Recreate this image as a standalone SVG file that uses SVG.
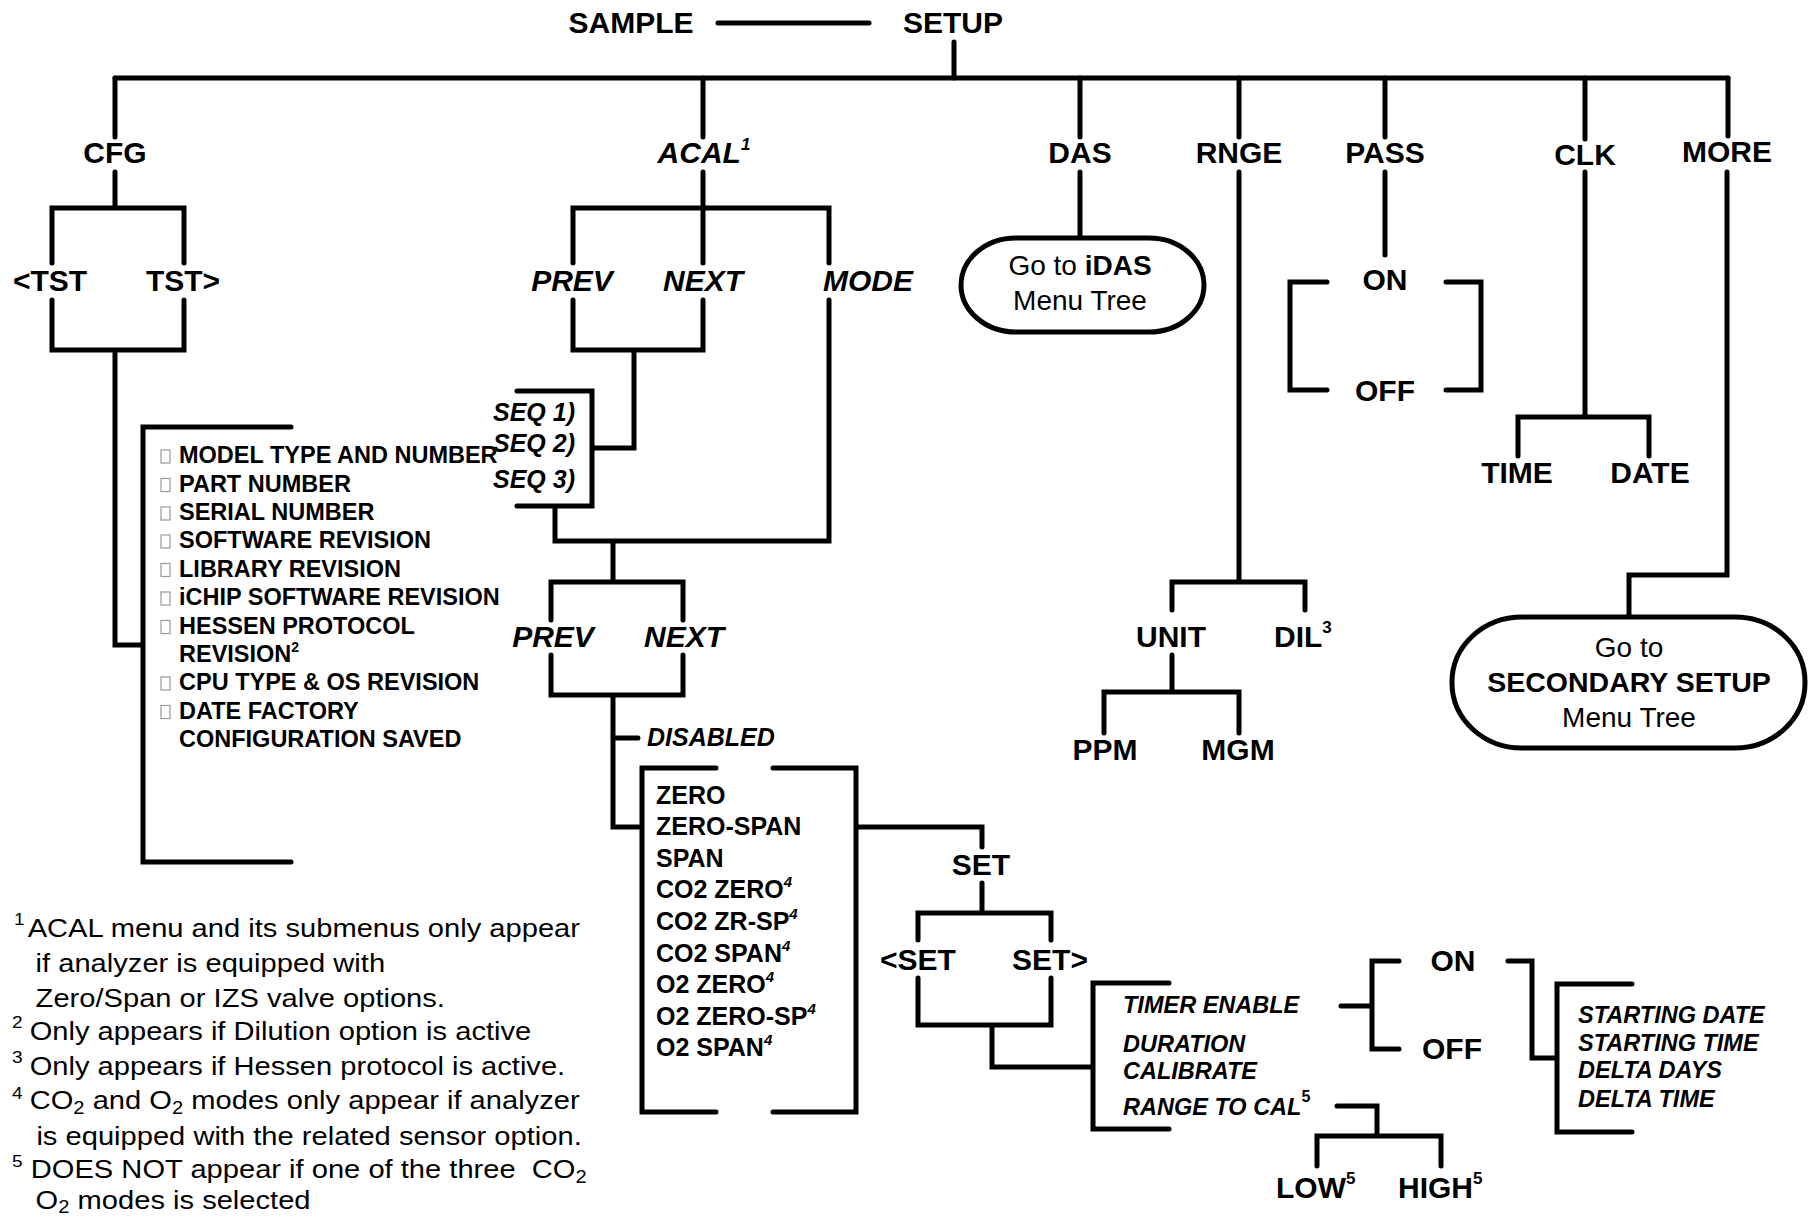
<svg xmlns="http://www.w3.org/2000/svg" width="1816" height="1219" viewBox="0 0 1816 1219">
<style>
.ln{fill:none;stroke:#000;stroke-width:5;stroke-linecap:round;stroke-linejoin:miter}
.t{font-family:"Liberation Sans",Arial,Helvetica,sans-serif;fill:#000}
.b{font-weight:bold}
.i{font-style:italic}
.L{font-size:30px}
.M{font-size:25px}
.S{font-size:23.5px}
.R{font-size:28px}
.c{text-anchor:middle}
.box{fill:#fff;stroke:#000;stroke-width:5}
.bul{fill:none;stroke:#9a9a9a;stroke-width:1.2}
.fn{font-size:26px}
.sup{font-size:17px}
.li{font-size:23.5px;font-weight:bold}
</style>
<rect width="1816" height="1219" fill="#fff"/>
<g id="connectors">
<path class="ln" d="M718 23H869"/>
<path class="ln" d="M954 42V78"/>
<path class="ln" d="M115 78H1728"/>
<path class="ln" d="M115 78V137M703 78V137M1080 78V137M1239 78V137M1385 78V137M1585 78V139M1728 78V136"/>
<path class="ln" d="M115 172V208M52 263V208H184V263M52 300V350H184V300M115 350V645H141"/>
<path class="ln" d="M291 427H143V862H291"/>
<path class="ln" d="M703 172V263M573 263V208H829V263M573 300V350H703V300M634 350V448H592M517 391H592V506H517M555 506V541H829V300M613 541V582M551 620V582H683V620M551 655V695H683V655M613 695V827H641M613 738H638"/>
<path class="ln" d="M716 768H642V1112H716M773 768H856V1112H773M856 827H982V847"/>
<path class="ln" d="M982 883V913M918 940V913H1051V940M918 978V1025H1051V978M992 1025V1067H1093M1169 983H1093V1129H1169"/>
<path class="ln" d="M1341 1006H1372M1399 961H1372V1049H1399M1508 961H1532V1058H1557M1632 984H1557V1132H1632M1337 1106H1377V1136M1317 1166V1136H1441V1166"/>
<path class="ln" d="M1080 172V238"/>
<path class="ln" d="M1239 172V582M1172 610V582H1305V610M1172 655V692M1104 733V692H1239V733"/>
<path class="ln" d="M1385 172V255M1327 282H1290V390H1327M1446 282H1481V390H1446"/>
<path class="ln" d="M1585 172V417M1518 456V417H1649V456"/>
<path class="ln" d="M1727 172V575H1629V617"/>
</g>
<g id="n-sample"><text class="t b L c" x="631" y="33">SAMPLE</text></g>
<g id="n-setup"><text class="t b L c" x="953" y="33">SETUP</text></g>
<g id="n-cfg"><text class="t b L c" x="115" y="163">CFG</text></g>
<g id="n-acal"><text class="t b i L c" x="704" y="163">ACAL<tspan class="sup" dy="-13">1</tspan></text></g>
<g id="n-das"><text class="t b L c" x="1080" y="163">DAS</text></g>
<g id="n-rnge"><text class="t b L c" x="1239" y="163">RNGE</text></g>
<g id="n-pass"><text class="t b L c" x="1385" y="163">PASS</text></g>
<g id="n-clk"><text class="t b L c" x="1585" y="165">CLK</text></g>
<g id="n-more"><text class="t b L c" x="1727" y="162">MORE</text></g>
<g id="n-tst-prev"><text class="t b L c" x="50" y="291">&lt;TST</text></g>
<g id="n-tst-next"><text class="t b L c" x="183" y="291">TST&gt;</text></g>
<g id="n-cfg-list">
<rect class="bul" x="161" y="450" width="9" height="13"/>
<rect class="bul" x="161" y="478.5" width="9" height="13"/>
<rect class="bul" x="161" y="507" width="9" height="13"/>
<rect class="bul" x="161" y="535" width="9" height="13"/>
<rect class="bul" x="161" y="563.5" width="9" height="13"/>
<rect class="bul" x="161" y="592" width="9" height="13"/>
<rect class="bul" x="161" y="620.5" width="9" height="13"/>
<rect class="bul" x="161" y="677" width="9" height="13"/>
<rect class="bul" x="161" y="705.5" width="9" height="13"/>
<text class="t li" x="179" y="463">MODEL TYPE AND NUMBER</text>
<text class="t li" x="179" y="491.5">PART NUMBER</text>
<text class="t li" x="179" y="520">SERIAL NUMBER</text>
<text class="t li" x="179" y="548">SOFTWARE REVISION</text>
<text class="t li" x="179" y="576.5">LIBRARY REVISION</text>
<text class="t li" x="179" y="605">iCHIP SOFTWARE REVISION</text>
<text class="t li" x="179" y="633.5">HESSEN PROTOCOL</text>
<text class="t li" x="179" y="662">REVISION<tspan font-size="14" dy="-10">2</tspan></text>
<text class="t li" x="179" y="690">CPU TYPE &amp; OS REVISION</text>
<text class="t li" x="179" y="718.5">DATE FACTORY</text>
<text class="t li" x="179" y="747">CONFIGURATION SAVED</text>
</g>
<g id="n-acal-prev"><text class="t b i L c" x="572" y="291">PREV</text></g>
<g id="n-acal-next"><text class="t b i L c" x="703" y="291">NEXT</text></g>
<g id="n-acal-mode"><text class="t b i L" x="823" y="291">MODE</text></g>
<g id="n-seq">
<text class="t b i M" x="493" y="421">SEQ 1)</text>
<text class="t b i M" x="493" y="452">SEQ 2)</text>
<text class="t b i M" x="493" y="488">SEQ 3)</text>
</g>
<g id="n-prev2"><text class="t b i L c" x="553" y="647">PREV</text></g>
<g id="n-next2"><text class="t b i L c" x="684" y="647">NEXT</text></g>
<g id="n-disabled"><text class="t b i M" x="647" y="746">DISABLED</text></g>
<g id="n-modes">
<text class="t b M" x="656" y="803.5">ZERO</text>
<text class="t b M" x="656" y="835">ZERO-SPAN</text>
<text class="t b M" x="656" y="866.5">SPAN</text>
<text class="t b M" x="656" y="898">CO2 ZERO<tspan class="i" font-size="15" dy="-11">4</tspan></text>
<text class="t b M" x="656" y="930">CO2 ZR-SP<tspan class="i" font-size="15" dy="-11">4</tspan></text>
<text class="t b M" x="656" y="961.5">CO2 SPAN<tspan class="i" font-size="15" dy="-11">4</tspan></text>
<text class="t b M" x="656" y="993">O2 ZERO<tspan class="i" font-size="15" dy="-11">4</tspan></text>
<text class="t b M" x="656" y="1024.5">O2 ZERO-SP<tspan class="i" font-size="15" dy="-11">4</tspan></text>
<text class="t b M" x="656" y="1056">O2 SPAN<tspan class="i" font-size="15" dy="-11">4</tspan></text>
</g>
<g id="n-set"><text class="t b L c" x="981" y="875">SET</text></g>
<g id="n-set-prev"><text class="t b L c" x="918" y="970">&lt;SET</text></g>
<g id="n-set-next"><text class="t b L c" x="1050" y="970">SET&gt;</text></g>
<g id="n-timer">
<text class="t b i S" x="1123" y="1013">TIMER ENABLE</text>
<text class="t b i S" x="1123" y="1052">DURATION</text>
<text class="t b i S" x="1123" y="1079">CALIBRATE</text>
<text class="t b i S" x="1123" y="1115">RANGE TO CAL<tspan font-style="normal" font-size="16" dy="-13">5</tspan></text>
</g>
<g id="n-timer-on"><text class="t b L c" x="1453" y="971">ON</text></g>
<g id="n-timer-off"><text class="t b L c" x="1452" y="1059">OFF</text></g>
<g id="n-starting">
<text class="t b i S" x="1578" y="1023">STARTING DATE</text>
<text class="t b i S" x="1578" y="1051">STARTING TIME</text>
<text class="t b i S" x="1578" y="1078">DELTA DAYS</text>
<text class="t b i S" x="1578" y="1107">DELTA TIME</text>
</g>
<g id="n-low"><text class="t b L" x="1276" y="1198">LOW<tspan font-size="17" dy="-14">5</tspan></text></g>
<g id="n-high"><text class="t b L" x="1398" y="1198">HIGH<tspan font-size="17" dy="-14">5</tspan></text></g>
<g id="n-idas">
<rect class="box" x="961" y="238" width="243" height="94" rx="55" ry="47"/>
<text class="t R c" x="1080" y="275">Go to <tspan class="b">iDAS</tspan></text>
<text class="t R c" x="1080" y="310">Menu Tree</text>
</g>
<g id="n-pass-on"><text class="t b L c" x="1385" y="290">ON</text></g>
<g id="n-pass-off"><text class="t b L c" x="1385" y="401">OFF</text></g>
<g id="n-unit"><text class="t b L c" x="1171" y="647">UNIT</text></g>
<g id="n-dil"><text class="t b L" x="1274" y="647">DIL<tspan font-size="17" dy="-14">3</tspan></text></g>
<g id="n-ppm"><text class="t b L c" x="1105" y="760">PPM</text></g>
<g id="n-mgm"><text class="t b L c" x="1238" y="760">MGM</text></g>
<g id="n-time"><text class="t b L c" x="1517" y="483">TIME</text></g>
<g id="n-date"><text class="t b L c" x="1650" y="483">DATE</text></g>
<g id="n-secondary">
<rect class="box" x="1452" y="617" width="353" height="131" rx="70" ry="65"/>
<text class="t R c" x="1629" y="657">Go to</text>
<text class="t b c" font-size="28.5" x="1629" y="692">SECONDARY SETUP</text>
<text class="t R c" x="1629" y="727">Menu Tree</text>
</g>
<g id="footnotes" transform="scale(1.12,1)">
<text class="t sup" x="12.5" y="925">1</text>
<text class="t fn" x="24.7" y="937">ACAL menu and its submenus only appear</text>
<text class="t fn" x="31.8" y="972">if analyzer is equipped with</text>
<text class="t fn" x="31.8" y="1007">Zero/Span or IZS valve options.</text>
<text class="t sup" x="10.7" y="1028">2</text>
<text class="t fn" x="26.5" y="1040">Only appears if Dilution option is active</text>
<text class="t sup" x="10.7" y="1063">3</text>
<text class="t fn" x="26.5" y="1075">Only appears if Hessen protocol is active.</text>
<text class="t sup" x="10.7" y="1099">4</text>
<text class="t fn" x="26.5" y="1109">CO<tspan font-size="18" dy="5">2</tspan><tspan dy="-5"> and O</tspan><tspan font-size="18" dy="5">2</tspan><tspan dy="-5"> modes only appear if analyzer</tspan></text>
<text class="t fn" x="32.5" y="1145">is equipped with the related sensor option.</text>
<text class="t sup" x="10.7" y="1167">5</text>
<text class="t fn" x="27.5" y="1178" xml:space="preserve">DOES NOT appear if one of the three  CO<tspan font-size="18" dy="5">2</tspan></text>
<text class="t fn" x="31.8" y="1209">O<tspan font-size="18" dy="4">2</tspan><tspan dy="-4"> modes is selected</tspan></text>
</g>
</svg>
